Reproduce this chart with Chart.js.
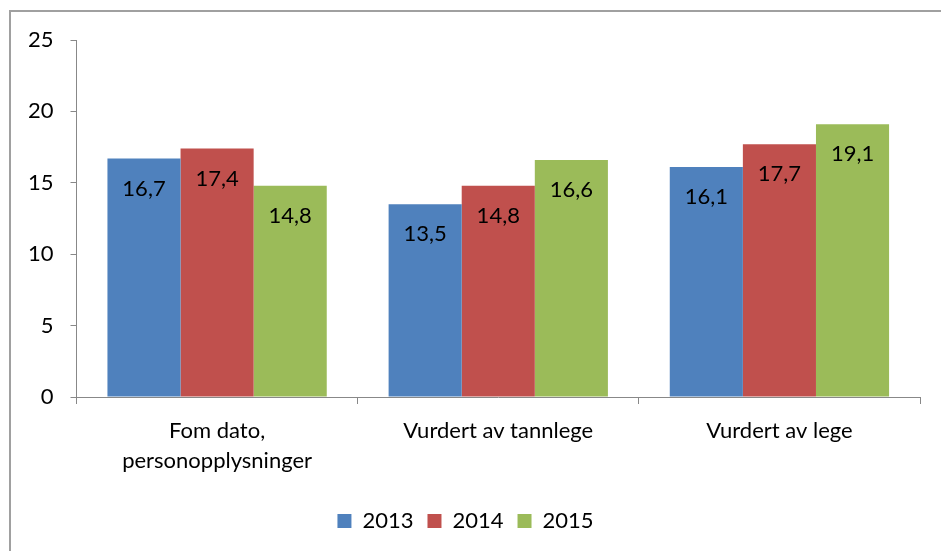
<!DOCTYPE html>
<html lang="no">

<head>
    <meta charset="UTF-8">
    <title>2013-2015</title>
    <script src="https://cdn.jsdelivr.net/npm/chart.js"></script>
    <style>
        html, body {
            margin: 0;
            padding: 0;
            background: #fff;
            overflow: hidden;
        }

        .frame {
            position: absolute;
            left: 9px;
            top: 10px;
            width: 1000px;
            height: 600px;
            border-left: 2px solid #a0a0a0;
            border-top: 2px solid #a0a0a0;
        }

        .chart-container {
            position: absolute;
            left: 0;
            top: 0;
            width: 941px;
            height: 551px;
        }
    </style>
</head>

<body>
    <div class="frame"></div>
    <div class="chart-container">
        <canvas id="chart"></canvas>
    </div>

    <script>
        // data
        const categories = [['Fom dato,', 'personopplysninger'], 'Vurdert av tannlege', 'Vurdert av lege'];
        const years = ['2013', '2014', '2015'];
        const values2013 = [16.7, 13.5, 16.1];
        const values2014 = [17.4, 14.8, 17.7];
        const values2015 = [14.8, 16.6, 19.1];
        const yTicks = [0, 5, 10, 15, 20, 25];

        const colors = ['#4f81bd', '#c0504d', '#9bbb59'];
        const fontFamily = 'Lato, "Open Sans", sans-serif';

        // values written inside the top of each bar
        const barLabels = {
            id: 'barLabels',
            afterDatasetsDraw(chart) {
                const ctx = chart.ctx;
                ctx.save();
                ctx.font = '22px ' + fontFamily;
                ctx.fillStyle = '#000';
                ctx.textAlign = 'center';
                ctx.textBaseline = 'middle';
                chart.data.datasets.forEach((ds, i) => {
                    chart.getDatasetMeta(i).data.forEach((bar, j) => {
                        const txt = ds.data[j].toFixed(1).replace('.', ',');
                        ctx.fillText(txt, bar.x, bar.y + 30);
                    });
                });
                ctx.restore();
            }
        };

        const ctx = document.getElementById('chart').getContext('2d');
        new Chart(ctx, {
            type: 'bar',
            data: {
                labels: categories,
                datasets: [values2013, values2014, values2015].map((vals, i) => ({
                    label: years[i],
                    data: vals,
                    backgroundColor: colors[i],
                    categoryPercentage: 0.78,
                    barPercentage: 1.0
                }))
            },
            options: {
                responsive: true,
                maintainAspectRatio: false,
                animation: false,
                layout: {
                    padding: { left: 11, right: 21, top: 40, bottom: 9 }
                },
                plugins: {
                    legend: {
                        position: 'bottom',
                        labels: {
                            font: { size: 22, family: fontFamily },
                            color: '#000',
                            boxWidth: 14,
                            boxHeight: 14,
                            padding: 14
                        }
                    },
                    tooltip: { enabled: false }
                },
                scales: {
                    x: {
                        afterFit(axis) {
                            axis.height = 99;
                        },
                        grid: {
                            drawOnChartArea: false,
                            drawTicks: true,
                            tickLength: 7,
                            color: '#888'
                        },
                        border: { color: '#888', width: 1 },
                        ticks: {
                            font: { size: 22, family: fontFamily, lineHeight: 1.35 },
                            color: '#000',
                            padding: 12,
                            maxRotation: 0
                        }
                    },
                    y: {
                        min: 0,
                        max: 25,
                        afterBuildTicks(axis) {
                            axis.ticks = yTicks.map(v => ({ value: v }));
                        },
                        grid: {
                            drawOnChartArea: false,
                            drawTicks: true,
                            tickLength: 6,
                            color: '#888'
                        },
                        border: { color: '#888', width: 1 },
                        ticks: {
                            font: { size: 22, family: fontFamily },
                            color: '#000',
                            padding: 17
                        }
                    }
                }
            },
            plugins: [barLabels]
        });
    </script>
</body>

</html>
